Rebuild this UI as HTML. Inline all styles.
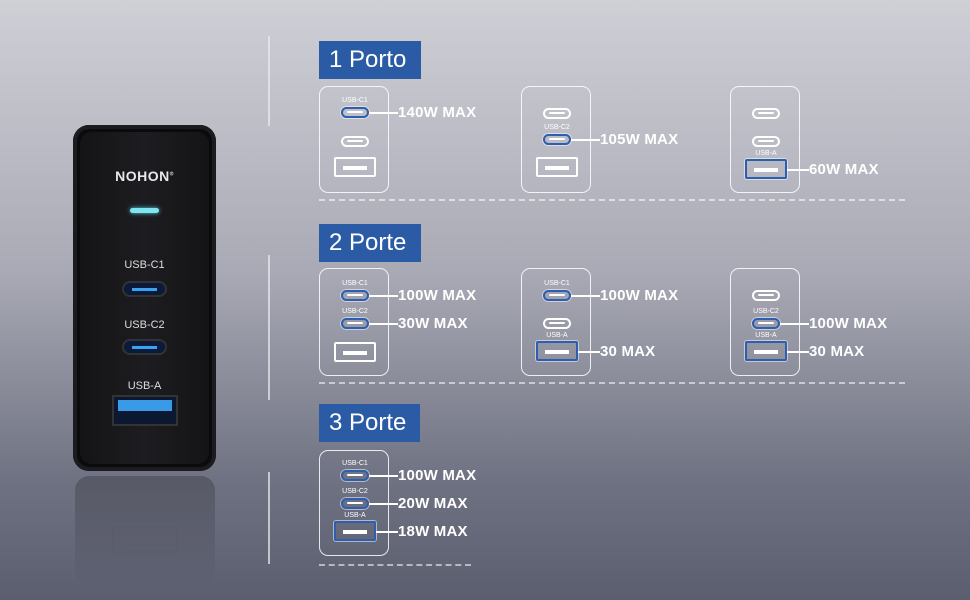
<!DOCTYPE html><html><head><meta charset="utf-8"><style>
body{margin:0;width:970px;height:600px;overflow:hidden;font-family:"Liberation Sans",sans-serif}
#c{position:relative;width:970px;height:600px;background:linear-gradient(180deg,#cfcfd6 0%,#a9aab5 45%,#6f7282 80%,#5b5e6e 100%)}
.a{position:absolute}
.box{position:absolute;width:70px;border:1.5px solid rgba(255,255,255,.85);border-radius:9px;box-sizing:border-box}
.tag{position:absolute;background:#2b5ba5;color:#fff;font-size:24px;height:38px;line-height:38px;padding:0 0 0 10px;box-sizing:border-box;white-space:nowrap;overflow:hidden}
.dash{position:absolute;height:0;border-top:2px dashed rgba(255,255,255,.55)}
.vl{position:absolute;left:268px;width:2px;background:rgba(235,235,240,.7)}
.pc{position:absolute;width:28px;height:11px;border:2px solid #fff;border-radius:6px;box-sizing:border-box}
.pc i{position:absolute;left:4px;right:4px;top:2.5px;height:2px;background:#fff;border-radius:1px}
.pa{position:absolute;width:42px;height:20px;border:2px solid #fff;border-radius:2px;box-sizing:border-box}
.pa i{position:absolute;left:7px;right:7px;top:7px;height:4px;background:#fff}
.hi{border-color:#2d5eaf;box-shadow:0 0 0 1px rgba(255,255,255,.5)}
.sl{position:absolute;font-size:7px;color:#fff;width:72px;text-align:center}
.ln{position:absolute;height:1.5px;background:#fff}
.lb{position:absolute;color:#fff;font-size:15px;font-weight:bold;letter-spacing:.2px;white-space:nowrap}
</style></head><body><div id="c">
<div class="vl" style="top:36px;height:90px"></div>
<div class="vl" style="top:255px;height:145px"></div>
<div class="vl" style="top:472px;height:92px"></div>
<div class="tag" style="left:319px;top:41px;width:102px">1 Porto</div>
<div class="tag" style="left:319px;top:224px;width:102px">2 Porte</div>
<div class="tag" style="left:319px;top:404px;width:101px">3 Porte</div>
<div class="dash" style="left:319px;width:586px;top:199px"></div>
<div class="dash" style="left:319px;width:586px;top:382px"></div>
<div class="dash" style="left:319px;width:152px;top:564px"></div>
<!-- device -->
<div class="a" style="left:73px;top:125px;width:143px;height:346px;background:#0b0b0d;border-radius:16px;box-shadow:inset 0 0 0 4px #1c1c20"></div>
<div class="a" style="left:80px;top:132px;width:129px;height:332px;background:linear-gradient(90deg,#141416,#1d1d21 50%,#141416);border-radius:12px"></div>
<div class="a" style="left:73px;top:168px;width:143px;text-align:center;color:#e8e8ea;font-weight:bold;font-size:14px;letter-spacing:.5px">NOHON<sup style="font-size:5px">®</sup></div>
<div class="a" style="left:130px;top:208px;width:29px;height:5px;background:#7fe6ef;border-radius:3px;box-shadow:0 0 4px #5cd"></div>
<div class="a" style="left:73px;top:259px;width:143px;text-align:center;color:#ddd;font-size:11px">USB-C1</div>
<div class="a" style="left:122px;top:281px;width:45px;height:16px;border:2px solid #333;border-radius:9px;background:#0a1a38;box-sizing:border-box"><div class="a" style="left:8px;right:8px;top:5px;height:3px;background:#3aa3f0"></div></div>
<div class="a" style="left:73px;top:319px;width:143px;text-align:center;color:#ddd;font-size:11px">USB-C2</div>
<div class="a" style="left:122px;top:339px;width:45px;height:16px;border:2px solid #333;border-radius:9px;background:#0a1a38;box-sizing:border-box"><div class="a" style="left:8px;right:8px;top:5px;height:3px;background:#3aa3f0"></div></div>
<div class="a" style="left:73px;top:380px;width:143px;text-align:center;color:#ddd;font-size:11px">USB-A</div>
<div class="a" style="left:112px;top:395px;width:66px;height:31px;border:2px solid #333;background:#0c1830;box-sizing:border-box"><div class="a" style="left:4px;right:4px;top:3px;height:11px;background:#3b9ae8"></div></div>
<!-- reflection -->
<div class="a" style="left:75px;top:476px;width:140px;height:110px;border-radius:14px;background:linear-gradient(180deg,rgba(30,30,38,.3),rgba(60,60,70,0));"></div>
<div class="a" style="left:112px;top:527px;width:66px;height:26px;border:2px solid rgba(90,90,100,.4);box-sizing:border-box"></div>
<div id="g"></div>
</div>
<script>
var B=[
[319,86,107,[["c",112,1,"USB-C1","140W MAX"],["c",141],["a",167]]],
[521,86,107,[["c",113],["c",139,1,"USB-C2","105W MAX"],["a",167]]],
[730,86,107,[["c",113],["c",141],["a",169,1,"USB-A","60W MAX"]]],
[319,268,108,[["c",295,1,"USB-C1","100W MAX"],["c",323,1,"USB-C2","30W MAX"],["a",352]]],
[521,268,108,[["c",295,1,"USB-C1","100W MAX"],["c",323],["a",351,1,"USB-A","30 MAX"]]],
[730,268,108,[["c",295],["c",323,1,"USB-C2","100W MAX"],["a",351,1,"USB-A","30 MAX"]]],
[319,450,106,[["c",475,1,"USB-C1","100W MAX"],["c",503,1,"USB-C2","20W MAX"],["a",531,1,"USB-A","18W MAX"]]]];
var h="";
B.forEach(function(b){var x=b[0];h+='<div class="box" style="left:'+x+'px;top:'+b[1]+'px;height:'+b[2]+'px"></div>';
b[3].forEach(function(p){var cx=x+36,y=p[1],hi=p[2]?' hi':'',r;
if(p[0]=="c"){h+='<div class="pc'+hi+'" style="left:'+(cx-14)+'px;top:'+(y-5.5)+'px"><i></i></div>';r=cx+14;}
else{h+='<div class="pa'+hi+'" style="left:'+(cx-21)+'px;top:'+(y-10)+'px"><i></i></div>';r=cx+21;}
if(p[3]){var ty=p[0]=="c"?y-15:y-19;h+='<div class="sl" style="left:'+x+'px;top:'+ty+'px">'+p[3]+'</div>';
h+='<div class="ln" style="left:'+r+'px;top:'+y+'px;width:'+(x+79-r)+'px"></div>';
h+='<div class="lb" style="left:'+(x+79)+'px;top:'+(y-8)+'px">'+p[4]+'</div>';}
});});
document.getElementById("g").innerHTML=h;
</script>
</body></html>
